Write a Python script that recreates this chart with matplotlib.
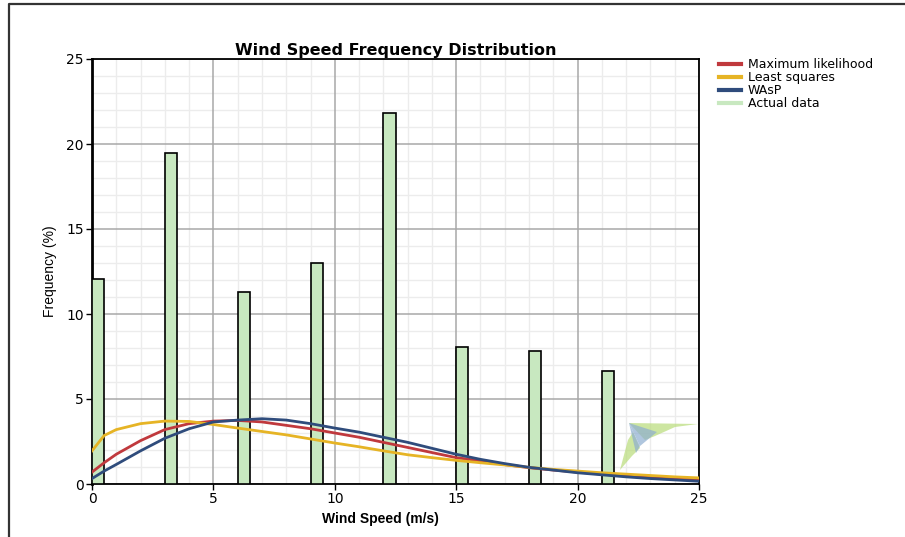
import matplotlib
matplotlib.use("Agg")
import matplotlib.pyplot as plt
from matplotlib.lines import Line2D
from matplotlib.patches import Polygon

plt.rcParams["font.family"] = ["DejaVu Sans"]

# Actual data (bars, left edge at each bin start)
bin_starts = [0, 3, 6, 9, 12, 15, 18, 21]
actual_freq = [12.05, 19.45, 11.3, 13.0, 21.8, 8.05, 7.85, 6.65]

# Fitted distributions
fit_speed = [0, 0.5, 1, 2, 3, 4, 5, 6, 7, 8, 9, 10, 11, 12, 13,
             14, 15, 16, 17, 18, 19, 20, 21, 22, 23, 24, 25]
max_likelihood = [0.7, 1.25, 1.75, 2.55, 3.2, 3.55, 3.7, 3.74, 3.65, 3.45,
                  3.25, 3.0, 2.75, 2.45, 2.15, 1.85, 1.55, 1.36, 1.14, 0.96,
                  0.82, 0.7, 0.58, 0.48, 0.4, 0.32, 0.26]
least_squares = [1.95, 2.85, 3.2, 3.55, 3.7, 3.68, 3.5, 3.29, 3.09, 2.89,
                 2.65, 2.41, 2.19, 1.95, 1.72, 1.55, 1.39, 1.25, 1.12, 0.98,
                 0.86, 0.76, 0.66, 0.58, 0.5, 0.42, 0.36]
wasp = [0.32, 0.76, 1.15, 1.95, 2.69, 3.25, 3.65, 3.76, 3.84, 3.76,
        3.55, 3.29, 3.05, 2.75, 2.45, 2.1, 1.75, 1.45, 1.2, 0.98,
        0.82, 0.66, 0.54, 0.42, 0.32, 0.24, 0.16]

RED = "#c0393d"
YELLOW = "#e6b425"
BLUE = "#2f4c7c"
GREEN = "#c8e8c0"

fig = plt.figure(figsize=(9.05, 5.37), dpi=100)
fig.patch.set_facecolor("white")
ax = fig.add_axes([92 / 905, 1 - 484 / 537, 607 / 905, 425 / 537])

# outer frame (left and top edges only visible)
fig.add_artist(Line2D([9 / 905, 9 / 905, 1.0], [0.0, 1 - 4 / 537, 1 - 4 / 537],
                      transform=fig.transFigure, color="#333333", linewidth=1.6))

ax.bar(bin_starts, actual_freq, width=0.5, align="edge", color=GREEN,
       edgecolor="black", linewidth=1.2, zorder=3, label="Actual data")
ax.plot(fit_speed, max_likelihood, color=RED, linewidth=2, zorder=4,
        label="Maximum likelihood")
ax.plot(fit_speed, least_squares, color=YELLOW, linewidth=2, zorder=4,
        label="Least squares")
ax.plot(fit_speed, wasp, color=BLUE, linewidth=2, zorder=5, label="WAsP")

ax.set_xlim(0, 25)
ax.set_ylim(0, 25)
ax.set_xticks(range(0, 26, 5))
ax.set_yticks(range(0, 26, 5))

# minor grid underneath the major grid, so the major lines stay unbroken
for v in range(1, 25):
    if v % 5:
        ax.axvline(v, color="#ececec", linewidth=1.0, zorder=0.1)
        ax.axhline(v, color="#ececec", linewidth=1.0, zorder=0.1)
ax.grid(which="major", color="#a8a8a8", linewidth=1.1)
ax.set_axisbelow(True)
ax.tick_params(which="major", direction="out", length=4, width=1,
               labelsize=10, pad=2)
for side in ("top", "right", "bottom"):
    ax.spines[side].set_linewidth(1.3)
ax.spines["left"].set_linewidth(2.0)

ax.set_title("Wind Speed Frequency Distribution", fontsize=11.5,
             fontweight="bold", pad=3)
ax.set_xlabel("Wind Speed (m/s)", fontsize=10, fontweight="bold",
              family=["Liberation Sans", "DejaVu Sans"])
ax.xaxis.set_label_coords((380 - 92) / 607, -0.065)
ax.set_ylabel("Frequency (%)", fontsize=10,
              family=["Liberation Sans", "DejaVu Sans"])
ax.yaxis.set_label_coords(-0.058, 0.5)

# small kite logo in the lower-right corner (decoration)
logo = [
    ("#b9dc7a", [(0.8847, 0.1435), (0.9984, 0.1412), (0.9605, 0.1341),
                 (0.9275, 0.1129), (0.9110, 0.1035)]),
    ("#b9dc7a", [(0.8913, 0.1224), (0.9028, 0.0847), (0.8896, 0.0659),
                 (0.8698, 0.0329), (0.8830, 0.1035)]),
    ("#8eaed0", [(0.8847, 0.1435), (0.9308, 0.1224), (0.9028, 0.0894)]),
    ("#8eaed0", [(0.8847, 0.1435), (0.9028, 0.0894), (0.8962, 0.0729)]),
]
for colour, pts in logo:
    ax.add_patch(Polygon(pts, closed=True, transform=ax.transAxes,
                         facecolor=colour, edgecolor="none", alpha=0.7,
                         zorder=2))

handles = [Line2D([], [], color=c, linewidth=3)
           for c in (RED, YELLOW, BLUE, GREEN)]
labels = ["Maximum likelihood", "Least squares", "WAsP", "Actual data"]
fig.legend(handles, labels, loc="upper left",
           bbox_to_anchor=(713 / 905, 1 - 52 / 537), frameon=False,
           fontsize=9, handlelength=1.75, handletextpad=0.55,
           labelspacing=0.0, borderpad=0)

fig.savefig("out.png", dpi=100, facecolor="white")
